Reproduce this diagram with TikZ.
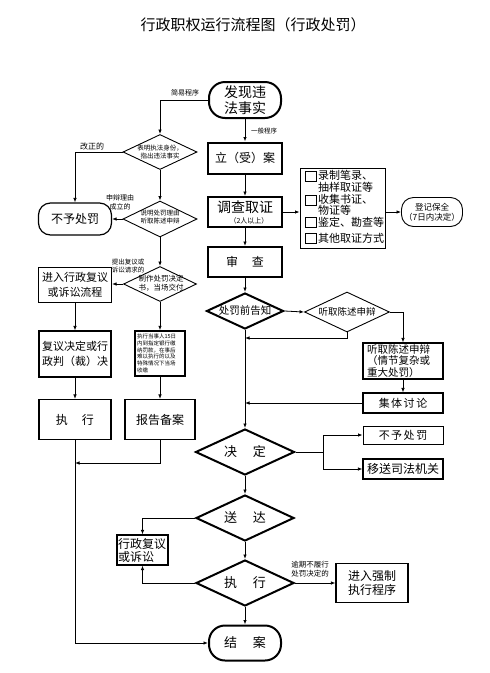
\documentclass[tikz,border=0pt]{standalone}
\usepackage{fontspec}
\setmainfont{Noto Sans CJK SC}
\usetikzlibrary{arrows.meta,shapes.geometric}
\newcommand{\myfs}[2]{\fontsize{#1}{#2}\selectfont}
\tikzset{
  every node/.style={inner sep=0pt, align=center},
  box/.style={draw, line width=1.2pt, rectangle},
  tbox/.style={draw, line width=2pt, rectangle},
  thinbox/.style={draw, line width=0.9pt, rectangle},
  dia/.style={draw, diamond, line width=2pt},
  thindia/.style={draw, diamond, line width=0.9pt},
  cn/.style={line width=0.8pt},
  arr/.style={cn, -{Latex[length=4.5pt,width=3.5pt]}},
}
\begin{document}
\begin{tikzpicture}[x=1pt,y=-1pt]
\useasboundingbox (0,0) rectangle (490,673);

% title
\node[font=\myfs{15}{17}] (title) at (253,25) {行政职权运行流程图（行政处罚）};

% main column
\node[tbox, rounded corners=16pt, minimum width=72pt, minimum height=36pt, font=\myfs{14}{16}] (find) at (245,100) {发现违\\法事实};
\node[tbox, minimum width=74pt, minimum height=31pt, font=\myfs{12}{14}] (case) at (245,158) {立（受）案};
\node[tbox, minimum width=74pt, minimum height=30pt] (inv) at (245,212) {};
\node[font=\myfs{14}{14}] (invt) at (245,207) {调查取证};
\node[font=\myfs{7}{8}] (invs) at (249,220.5) {（2人以上）};
\node[tbox, minimum width=74pt, minimum height=30pt, font=\myfs{12}{14}] (audit) at (245,262) {审\hspace{14pt}查};
\node[dia, minimum width=77pt, minimum height=36pt] (notify) at (245,311) {};
\node[font=\myfs{10.5}{12}] at (notify) {处罚前告知};
\node[thindia, minimum width=85pt, minimum height=40pt] (hear) at (347,312) {};
\node[font=\myfs{9.5}{11}] at (hear) {听取陈述申辩};
\node[box, minimum width=80pt, minimum height=36pt] (hearbox) at (403,361) {};
\node[font=\myfs{10.5}{11.3}, align=left, text width=74pt] at (404,361) {听取陈述申辩\\（情节复杂或\\重大处罚）};
\node[box, minimum width=80pt, minimum height=20pt, font=\myfs{11}{12}] (discuss) at (403,403) {集\hspace{1.5pt}体\hspace{1.5pt}讨\hspace{1.5pt}论};
\node[dia, minimum width=99pt, minimum height=46pt] (decide) at (245,452) {};
\node[font=\myfs{13}{14}] at (decide) {决\hspace{16pt}定};
\node[thinbox, minimum width=80pt, minimum height=18pt, font=\myfs{11}{12}] (nopr) at (403,435) {不\hspace{1.5pt}予\hspace{1.5pt}处\hspace{1.5pt}罚};
\node[box, minimum width=80pt, minimum height=20pt, font=\myfs{12}{13}] (transfer) at (403,469) {移送司法机关};
\node[dia, minimum width=98pt, minimum height=46pt] (deliver) at (245,518) {};
\node[font=\myfs{13}{14}] at (deliver) {送\hspace{16pt}达};
\node[box, minimum width=51pt, minimum height=30pt] (revbox) at (142.5,550) {};
\node[font=\myfs{12}{13}, align=left, text width=49pt] at (revbox) {行政复议\\或诉讼};
\node[dia, minimum width=98pt, minimum height=46pt] (exec) at (245,583) {};
\node[font=\myfs{13}{14}] at (exec) {执\hspace{16pt}行};
\node[box, minimum width=72pt, minimum height=39pt, font=\myfs{12}{14}] (force) at (372,583) {进入强制\\执行程序};
\node[tbox, rounded corners=16pt, minimum width=72pt, minimum height=35pt, font=\myfs{13}{14}] (close) at (245,643) {结\hspace{16pt}案};

% evidence list
\node[thinbox, minimum width=85pt, minimum height=80pt] (list) at (342.5,208) {};
\foreach \yy in {171,195,217,233} {\draw[line width=0.6pt] (305,\yy) rectangle (316,\yy+10);}
\node[font=\myfs{11}{12}, anchor=west] at (318,175) {录制笔录、};
\node[font=\myfs{11}{12}, anchor=west] at (318,187) {抽样取证等};
\node[font=\myfs{11}{12}, anchor=west] at (318,199) {收集书证、};
\node[font=\myfs{11}{12}, anchor=west] at (318,210) {物证等};
\node[font=\myfs{11}{12}, anchor=west] at (318,222.5) {鉴定、勘查等};
\node[font=\myfs{11}{12}, anchor=west] at (318,238.5) {其他取证方式};
\node[thinbox, rounded corners=12pt, minimum width=61pt, minimum height=29pt, font=\myfs{8.5}{10}] (reg) at (432,212) {登记保全\\（7日内决定）};

% left column
\node[thindia, minimum width=74pt, minimum height=35pt] (d1) at (160,152) {};
\node[font=\myfs{6.5}{7.5}] at (d1) {表明执法身份，\\指出违法事实};
\node[thindia, minimum width=74pt, minimum height=36pt] (d2) at (160,219) {};
\node[font=\myfs{6.5}{8}] at (160,217.5) {说明处罚理由\\听取陈述申辩};
\node[thindia, minimum width=73pt, minimum height=35pt] (d3) at (160,284) {};
\node[font=\myfs{7.5}{9}] at (161,283.5) {制作处罚决定\\书，当场交付};
\node[box, rounded corners=12pt, minimum width=73pt, minimum height=32pt, font=\myfs{12}{13}] (nopl) at (75,219) {不予处罚};
\node[box, minimum width=73pt, minimum height=35pt, font=\myfs{11}{15}] (review) at (75,285) {进入行政复议\\或诉讼流程};
\node[box, minimum width=72pt, minimum height=46pt, font=\myfs{11}{15}] (judge) at (75,354) {复议决定或行\\政判（裁）决};
\node[draw, line width=1.5pt, minimum width=50pt, minimum height=45pt] (exec15) at (160,353.5) {};
\node[font=\myfs{5.5}{6.8}, align=left, text width=46pt] at (exec15) {执行当事人15日\\内到指定银行缴\\纳罚款，在事后\\难以执行的以及\\特殊情况下当场\\收缴};
\node[box, minimum width=72pt, minimum height=40pt, font=\myfs{12}{13}] (exe1) at (75,419.5) {执\hspace{14pt}行};
\node[box, minimum width=70pt, minimum height=40pt, font=\myfs{12}{13}] (report) at (160,419.5) {报告备案};

% connector coordinates
\coordinate (m1) at (245,338);
\coordinate (m2) at (245,403);
\coordinate (m3) at (75,463);
\coordinate (sp) at (323,452);

% main connectors
\draw[arr] (find.south) -- (case.north);
\node[font=\myfs{6.5}{7.5}, anchor=west] at (251,131) {一般程序};
\draw[arr] (case.south) -- (inv.north);
\draw[arr] (inv.east) -- (inv.east -| list.west);
\draw[arr] (list.east |- reg.west) -- (reg.west);
\draw[arr] (inv.south) -- (audit.north);
\draw[arr] (audit.south) -- (notify.north);
\draw[arr] (notify.east) -- (hear.west);
\draw[arr] (hear.east) -| (hearbox.north);
\draw[arr] (hear.south) |- (m1);
\draw[arr] (hearbox.south) -- (discuss.north);
\draw[arr] (discuss.west) -- (m2);
\draw[arr] (notify.south) -- (decide.north);
\draw[cn] (decide.east) -- (sp);
\draw[arr] (sp) |- (nopr.west);
\draw[arr] (sp) |- (transfer.west);
\draw[arr] (decide.south) -- (deliver.north);
\draw[arr] (deliver.west) -| (revbox.north);
\draw[arr] (deliver.south) -- (exec.north);
\draw[arr] (exec.west) -| (revbox.south);
\draw[arr] (exec.east) -- (force.west);
\node[font=\myfs{7.5}{9}] at (310,569.5) {逾期不履行\\处罚决定的};
\draw[arr] (exec.south) -- (close.north);

% left connectors
\draw[arr] (find.west) -| (d1.north);
\node[font=\myfs{7}{8}] at (185,93) {简易程序};
\draw[arr] (d1.west) -| (nopl.north);
\node[font=\myfs{8}{9}] at (92,146.5) {改正的};
\draw[arr] (d1.south) -- (d2.north);
\draw[arr] (d2.west) -- (nopl.east);
\node[font=\myfs{7}{9}] at (120,202.5) {申辩理由\\成立的};
\draw[arr] (d2.south) -- (d3.north);
\draw[arr] (d3.west) -- (d3.west -| review.east);
\node[font=\myfs{6.5}{7.5}] at (128,266) {提出复议或\\诉讼请求的};
\draw[arr] (review.south) -- (judge.north);
\draw[arr] (d3.south) -- (exec15.north);
\draw[arr] (judge.south) -- (exe1.north);
\draw[arr] (exec15.south) -- (report.north);
\draw[arr] (report.south) |- (m3);
\draw[arr] (exe1.south) |- (close.west);
\end{tikzpicture}
\end{document}
